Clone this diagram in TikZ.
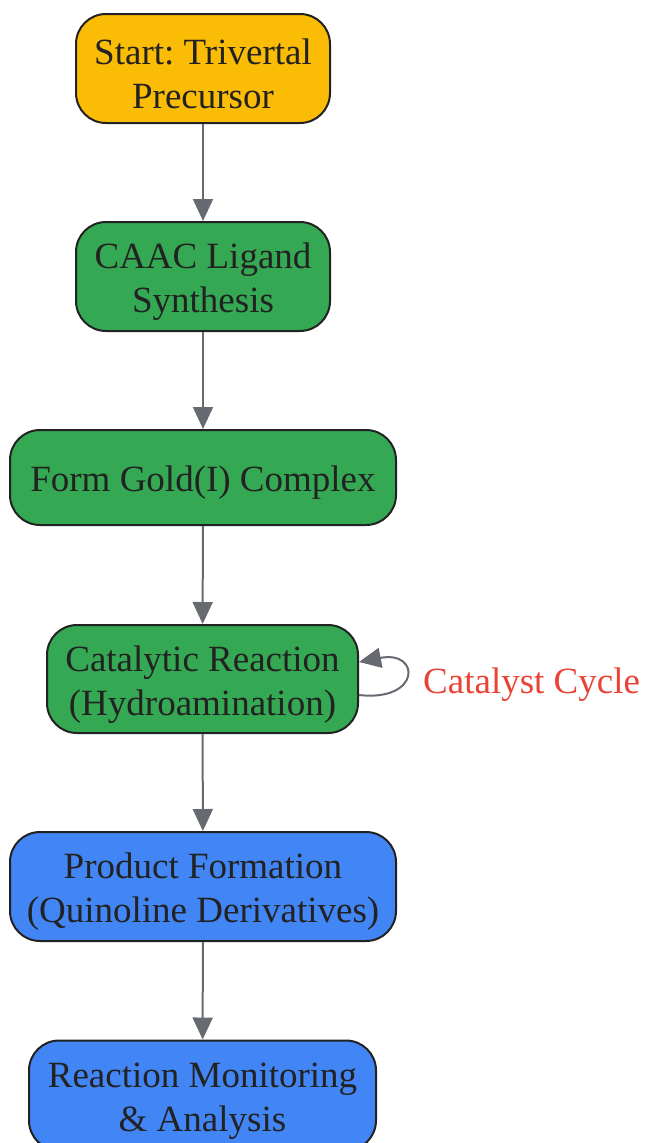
\documentclass[tikz,border=0pt]{standalone}
\usepackage{fontspec}
\setmainfont{Liberation Serif}
\usetikzlibrary{arrows.meta}
\definecolor{gyellow}{HTML}{FBBC05}
\definecolor{ggreen}{HTML}{34A853}
\definecolor{gblue}{HTML}{4285F4}
\definecolor{gred}{HTML}{EA4335}
\definecolor{edgegray}{HTML}{676A70}
\definecolor{txt}{HTML}{222222}
\newcommand{\topstrut}{\rule{0pt}{36pt}}
\frenchspacing
\begin{document}
\begin{tikzpicture}[x=1pt,y=-1pt,
  box/.style={draw=txt,line width=2pt,rounded corners=30pt,align=center,
    text=txt,font=\fontsize{37}{44}\selectfont\frenchspacing,inner sep=0pt},
  flow/.style={draw=edgegray,line width=2pt,-{Triangle[length=22pt,width=20pt]}},
  loopedge/.style={draw=edgegray,line width=2pt,-{Triangle[length=22pt,width=20pt]}}]
\useasboundingbox (0,0) rectangle (646,1143);
\node[box,fill=gyellow,minimum width=254pt,minimum height=109pt] (n1) at (203,68.5) {\topstrut Start: Trivertal\\Precursor};
\node[box,fill=ggreen,minimum width=254pt,minimum height=109pt] (n2) at (203,276.5) {\topstrut CAAC Ligand\\Synthesis};
\node[box,fill=ggreen,minimum width=386pt,minimum height=95pt] (n3) at (203,477.5) {\topstrut Form Gold(I) Complex};
\node[box,fill=ggreen,minimum width=311pt,minimum height=108pt] (n4) at (202.5,679) {\topstrut Catalytic Reaction\\(Hydroamination)};
\node[box,fill=gblue,minimum width=386pt,minimum height=109pt] (n5) at (203,886.5) {\topstrut Product Formation\\(Quinoline Derivatives)};
\node[box,fill=gblue,minimum width=347pt,minimum height=110pt] (n6) at (202.5,1095.5) {\topstrut Reaction Monitoring\\\& Analysis};
\node[text=gred,font=\fontsize{37}{44}\selectfont,inner sep=0pt,anchor=base west] (lbl) at (423,693) {Catalyst Cycle};
\draw[flow] (n1) -- (n2);
\draw[flow] (n2) -- (n3);
\draw[flow] (n3) -- (n4);
\draw[flow] (n4) -- (n5);
\draw[flow] (n5) -- (n6);
\draw[loopedge] ([yshift=-16pt]n4.east) .. controls (421,702) and (421,650) .. ([yshift=17pt]n4.east);
\end{tikzpicture}
\end{document}
